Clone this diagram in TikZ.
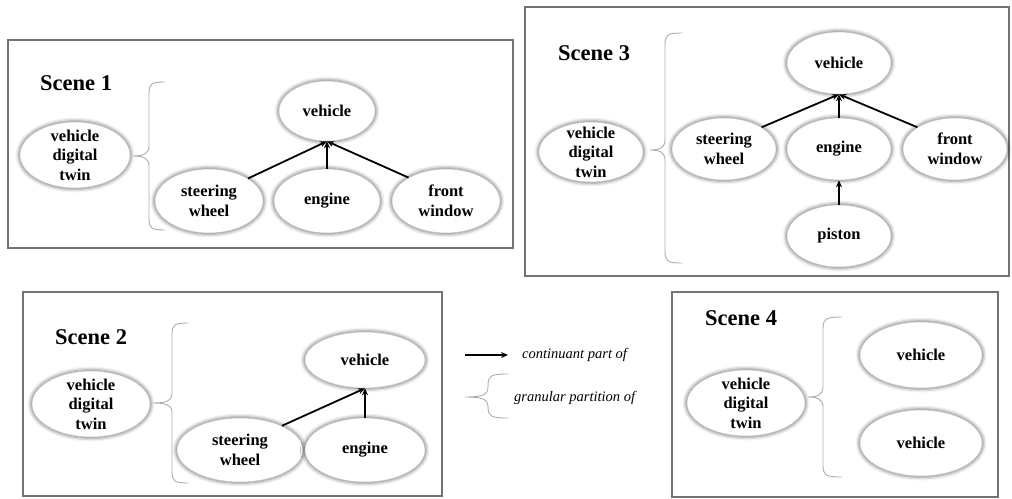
\documentclass[tikz,border=0pt]{standalone}
\usepackage{fontspec}
\setmainfont{Liberation Serif}
\usetikzlibrary{shapes.geometric,shadows.blur,arrows.meta}
\newcommand\gbrace[6]{% tip x, tip y, vertical x, end x, top y, bottom y
  \draw[gbr] (#4,#5) .. controls (#3+2,#5) and (#3,#5+2) .. (#3,#5+12)
    -- (#3,#2-10) .. controls (#3,#2-2) and (#3-6,#2) .. (#1,#2)
    .. controls (#3-6,#2) and (#3,#2+2) .. (#3,#2+10)
    -- (#3,#6-12) .. controls (#3,#6-2) and (#3+2,#6) .. (#4,#6);}
\begin{document}
\begin{tikzpicture}[x=1pt,y=-1pt,
  ell/.style={ellipse,draw=gray!45,line width=0.6pt,fill=white,inner sep=0pt,
    blur shadow={shadow xshift=0pt,shadow yshift=0pt,shadow blur radius=4.5pt,shadow opacity=75}},
  lbl/.style={align=center,inner sep=0pt,font=\fontsize{16.5}{19.5}\selectfont\bfseries},
  txt/.style={label={[lbl]center:#1}},
  scenebox/.style={draw=black!55,line width=1.3pt},
  title/.style={font=\fontsize{22.5}{26}\selectfont\bfseries,anchor=west,inner sep=0pt},
  part/.style={-{Stealth[length=7pt,width=6pt]},line width=1.8pt},
  gbr/.style={draw=gray!65,line width=0.9pt},
  leg/.style={font=\fontsize{14.5}{17}\selectfont\itshape,anchor=west,inner sep=0pt}]
\useasboundingbox (0,0) rectangle (1012,498);

% ---------- Scene 1 ----------
\draw[scenebox] (8,40) rectangle (513,248);
\node[title] (t1) at (40,83) {Scene 1};
\node[ell,minimum width=110,minimum height=66,txt={vehicle\\digital\\twin}] (dt1) at (75,155) {};
\node[ell,minimum width=96,minimum height=60,txt={vehicle}] (v1) at (327,111) {};
\node[ell,minimum width=108,minimum height=64,txt={steering\\wheel}] (s1) at (209,201) {};
\node[ell,minimum width=106,minimum height=64,txt={engine}] (e1) at (327,201) {};
\node[ell,minimum width=108,minimum height=64,txt={front\\window}] (f1) at (446,201) {};
\gbrace{133}{156}{149}{165}{82}{230}
\draw[part] (s1.30) -- (v1.south);
\draw[part] (e1.north) -- (v1.south);
\draw[part] (f1.148) -- (v1.south);

% ---------- Scene 3 ----------
\draw[scenebox] (525,7) rectangle (1009,276);
\node[title] (t3) at (558,53) {Scene 3};
\node[ell,minimum width=104,minimum height=60,txt={vehicle\\digital\\twin}] (dt3) at (591,152) {};
\node[ell,minimum width=104,minimum height=62,txt={vehicle}] (v3) at (839,63) {};
\node[ell,minimum width=104,minimum height=62,txt={steering\\wheel}] (s3) at (724,149) {};
\node[ell,minimum width=104,minimum height=62,txt={engine}] (e3) at (839,149) {};
\node[ell,minimum width=104,minimum height=62,txt={front\\window}] (f3) at (955,149) {};
\node[ell,minimum width=104,minimum height=62,txt={piston}] (p3) at (839,236) {};
\gbrace{650}{150}{665}{682}{33}{263}
\draw[part] (s3.30) -- (v3.south);
\draw[part] (e3.north) -- (v3.south);
\draw[part] (f3.150) -- (v3.south);
\draw[part] (p3.north) -- (e3.south);

% ---------- Scene 2 ----------
\draw[scenebox] (23,292) rectangle (442,496);
\node[title] (t2) at (55,337) {Scene 2};
\node[ell,minimum width=118,minimum height=66,txt={vehicle\\digital\\twin}] (dt2) at (91,404) {};
\node[ell,minimum width=120,minimum height=56,txt={vehicle}] (v2) at (365,360) {};
\node[ell,minimum width=126,minimum height=64,txt={steering\\wheel}] (s2) at (240,450) {};
\node[ell,minimum width=120,minimum height=64,txt={engine}] (e2) at (365,450) {};
\gbrace{153}{403}{172}{188}{323}{483}
\draw[part] (s2.30) -- (v2.south);
\draw[part] (e2.north) -- (v2.south);

% ---------- Legend ----------
\coordinate (la) at (465,355);
\coordinate (lb) at (508,355);
\draw[part] (la) -- (lb);
\node[leg] (l1) at (522,355) {continuant part of};
\gbrace{465}{397}{488}{508}{374}{418}
\node[leg] (l2) at (514,398) {granular partition of};

% ---------- Scene 4 ----------
\draw[scenebox] (672,292) rectangle (998,497);
\node[title] (t4) at (705,318) {Scene 4};
\node[ell,minimum width=118,minimum height=66,txt={vehicle\\digital\\twin}] (dt4) at (746,403) {};
\node[ell,minimum width=122,minimum height=66,txt={vehicle}] (va4) at (921,355) {};
\node[ell,minimum width=122,minimum height=66,txt={vehicle}] (vb4) at (921,443) {};
\gbrace{808}{397}{823}{842}{317}{477}
\end{tikzpicture}
\end{document}
